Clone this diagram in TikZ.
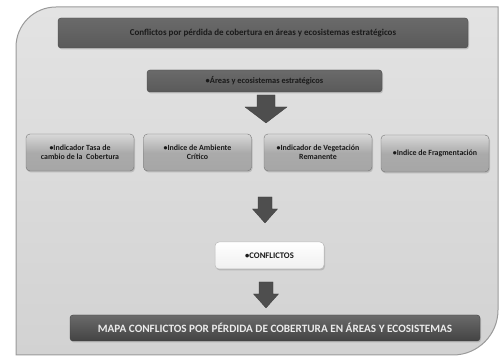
\documentclass[tikz,border=0pt]{standalone}
\usepackage{fontspec}
\setmainfont{Carlito}
\usetikzlibrary{shadows}

\definecolor{panelgray}{HTML}{D2D2D2}
\definecolor{paneledge}{HTML}{9A9A9A}
\definecolor{bardark}{HTML}{5A5A5A}
\definecolor{barmid}{HTML}{6A6A6A}
\definecolor{boxgray}{HTML}{A6A6A6}
\definecolor{boxlight}{HTML}{D8D8D8}
\definecolor{arrowgray}{HTML}{4E4E4E}
\definecolor{inktext}{HTML}{1A1A1A}

\tikzset{
  x=1pt, y=1pt,
  softshadow/.style={drop shadow={opacity=0.35, shadow xshift=1pt, shadow yshift=-1.5pt}},
  darkbar/.style={rounded corners=3pt, top color=barmid, bottom color=bardark,
    draw=bardark!80!black, line width=0.4pt, softshadow, inner sep=0pt,
    text=inktext},
  indexbox/.style={rounded corners=4pt, top color=boxlight, bottom color=boxgray,
    middle color=boxgray!95!white, draw=boxgray!70!black, line width=0.4pt, softshadow,
    minimum width=108, minimum height=37, inner sep=0pt, align=center,
    text=inktext, font=\fontsize{7.9}{8.8}\selectfont\bfseries},
  lightbox/.style={rounded corners=4pt, top color=white, bottom color=gray!12,
    draw=gray!55, line width=0.5pt, softshadow, minimum width=109, minimum height=27,
    inner sep=0pt, text=inktext, font=\fontsize{8.6}{9.5}\selectfont\bfseries},
  mapbar/.style={rounded corners=3pt, top color=bardark!90, bottom color=bardark!75!black,
    draw=bardark!70!black, line width=0.4pt, softshadow, minimum width=410, minimum height=26,
    inner sep=0pt, text=white!92!black, font=\fontsize{11.2}{12}\selectfont\bfseries},
  blockarrow/.style={fill=arrowgray, draw=arrowgray!80!black, line width=0.3pt}
}

\begin{document}
\begin{tikzpicture}
\useasboundingbox (0,0) rectangle (499,363);

% background panel with a wide rounded top-left and bottom-right corner
\path[top color=gray!22, bottom color=panelgray, draw=paneledge, line width=1pt]
  (16,8) -- (16,316) arc[start angle=180, end angle=90, radius=40]
  -- (498,356) -- (498,53) arc[start angle=0, end angle=-90, radius=45] -- cycle;

% title bar
\node[darkbar, minimum width=410, minimum height=30,
      font=\fontsize{9}{10}\selectfont\bfseries] (title) at (263,330)
  {Conflictos por pérdida de cobertura en áreas y ecosistemas estratégicos};

% source layer
\node[darkbar, minimum width=235, minimum height=22,
      font=\fontsize{8.4}{9}\selectfont\bfseries] (areas) at (264.5,282)
  {•Áreas y ecosistemas estratégicos};

% arrow from source layer to the indices
\fill[blockarrow] (257,268) -- (275,268) -- (275,256) -- (287,256) -- (266,240)
  -- (245,256) -- (257,256) -- cycle;

% the four indices
\node[indexbox] (tasa) at (80,210.5) {•Indicador Tasa de\\cambio de la\ \ Cobertura};
\node[indexbox] (critico) at (197.5,210.5) {•Indice de Ambiente\\Crítico};
\node[indexbox] (veget) at (318,210.5) {•Indicador de Vegetación\\Remanente};
\node[indexbox] (fragm) at (435,209.5) {•Indice de Fragmentación};

% arrow from the indices to the conflicts
\fill[blockarrow] (258,166) -- (272,166) -- (272,154) -- (277.5,154) -- (265,140)
  -- (252.5,154) -- (258,154) -- cycle;

% conflicts
\node[lightbox] (confl) at (269.5,107.5) {•CONFLICTOS};

% arrow from the conflicts to the map
\fill[blockarrow] (259,81) -- (273,81) -- (273,69) -- (278.5,69) -- (266,55)
  -- (253.5,69) -- (259,69) -- cycle;

% resulting map
\node[mapbar] (mapa) at (275,35)
  {MAPA CONFLICTOS POR PÉRDIDA DE COBERTURA EN ÁREAS Y ECOSISTEMAS};
\end{tikzpicture}
\end{document}
